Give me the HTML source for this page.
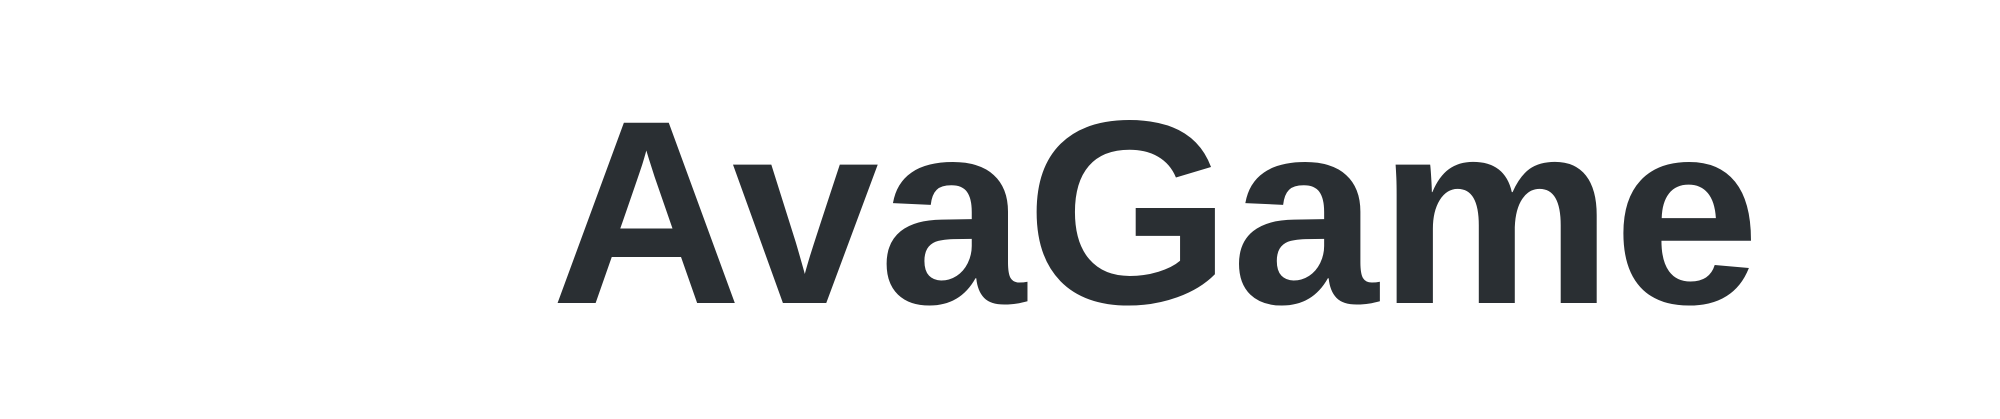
<!DOCTYPE html>
<html>
<head>
<meta charset="utf-8">
<style>
  html, body { margin: 0; padding: 0; background: #ffffff; }
  body { width: 2000px; height: 419px; overflow: hidden; }
  svg { display: block; }
</style>
</head>
<body>
<svg width="2000" height="419" viewBox="0 0 2000 419">
  <rect x="0" y="0" width="2000" height="419" fill="#ffffff"/>
  <text x="551" y="303" font-family="'Liberation Sans', sans-serif" font-weight="bold" font-size="262"
        fill="#2a2f33" textLength="1209" lengthAdjust="spacingAndGlyphs"
       >AvaGame</text>
</svg>
</body>
</html>
